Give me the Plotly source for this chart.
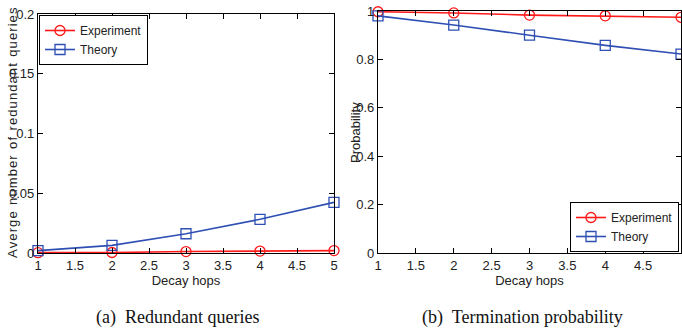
import plotly.graph_objects as go

hops = [1, 2, 3, 4, 5]
red_exp = [0.0003, 0.0004, 0.0012, 0.0016, 0.002]
red_theory = [0.002, 0.0064, 0.0161, 0.0282, 0.0424]
term_exp = [0.997, 0.992, 0.983, 0.980, 0.974]
term_theory = [0.980, 0.942, 0.900, 0.858, 0.822]

x_ticks = [1, 1.5, 2, 2.5, 3, 3.5, 4, 4.5, 5]
x_ticklabels = ["1", "1.5", "2", "2.5", "3", "3.5", "4", "4.5", "5"]
y1_ticks = [0, 0.05, 0.1, 0.15, 0.2]
y1_ticklabels = ["0", "0.05", "0.1", "0.15", "0.2"]
y2_ticks = [0, 0.2, 0.4, 0.6, 0.8, 1]
y2_ticklabels = ["0", "0.2", "0.4", "0.6", "0.8", "1"]

RED = "#ff1a1a"
BLUE = "#2f4fb3"
FONT = "Liberation Sans Narrow, Liberation Sans, Arial"
SERIF = "Liberation Serif, Times New Roman"

W, H = 682, 329
def px(x):
    return x / W
def py(y):
    return (H - y) / H

fig = go.Figure()
mk = dict(size=10, line=dict(width=1.3))
series = [
    (red_exp, "Experiment", RED, "circle-open", "x", "y", "legend"),
    (red_theory, "Theory", BLUE, "square-open", "x", "y", "legend"),
    (term_exp, "Experiment", RED, "circle-open", "x2", "y2", "legend2"),
    (term_theory, "Theory", BLUE, "square-open", "x2", "y2", "legend2"),
]
for vals, name, col, sym, xa, ya, lg in series:
    fig.add_trace(go.Scatter(x=hops, y=vals, name=name, mode="lines+markers",
                             line=dict(color=col, width=1.6),
                             marker=dict(symbol=sym, color=col, **mk),
                             cliponaxis=False,
                             xaxis=xa, yaxis=ya, legend=lg))

axis_common = dict(showline=True, linecolor="black", linewidth=1.2, mirror="allticks",
                   ticks="inside", ticklen=5, tickcolor="black", showgrid=False,
                   zeroline=False, automargin=False,
                   tickfont=dict(family=FONT, size=13, color="#222"))

ylabel = "A v e r g e  n u m b e r  o f  r e d u n d a n t  q u e r i e s".replace("  ", "\u2002").replace(" ", "\u200a")

fig.update_layout(
    width=W, height=H, margin=dict(l=0, r=0, t=0, b=0, autoexpand=False),
    paper_bgcolor="white", plot_bgcolor="white",
    font=dict(family=FONT, size=13, color="#222"),
    xaxis=dict(domain=[px(38), px(334)], range=[1, 5], tickvals=x_ticks, ticktext=x_ticklabels,
               title=dict(text="Decay hops", standoff=2, font=dict(size=13)), anchor="y", **axis_common),
    yaxis=dict(domain=[py(253), py(14)], range=[0, 0.2], tickvals=y1_ticks, ticktext=y1_ticklabels,
               anchor="x", **axis_common),
    xaxis2=dict(domain=[px(378), px(681)], range=[1, 5], tickvals=x_ticks, ticktext=x_ticklabels,
                title=dict(text="Decay hops", standoff=2, font=dict(size=13)), anchor="y2", **axis_common),
    yaxis2=dict(domain=[py(253), py(11)], range=[0, 1], tickvals=y2_ticks, ticktext=y2_ticklabels,
                anchor="x2", **axis_common),
    legend=dict(x=px(39), y=py(15), xanchor="left", yanchor="top", bgcolor="white",
                bordercolor="black", borderwidth=1, font=dict(family=FONT, size=12, color="#222"),
                itemwidth=30, tracegroupgap=0),
    legend2=dict(x=px(679), y=py(252), xanchor="right", yanchor="bottom", bgcolor="white",
                 bordercolor="black", borderwidth=1, font=dict(family=FONT, size=12, color="#222"),
                 itemwidth=30, tracegroupgap=0),
    showlegend=True,
)

fig.add_annotation(text=ylabel, x=px(12), y=py(133), xref="paper", yref="paper", textangle=-90,
                   xanchor="center", yanchor="middle", showarrow=False,
                   font=dict(family=FONT, size=13, color="#222"))
fig.add_annotation(text="Probability", x=px(355), y=py(133), xref="paper", yref="paper", textangle=-90,
                   xanchor="center", yanchor="middle", showarrow=False,
                   font=dict(family=FONT, size=13, color="#222"))
fig.add_annotation(text="(a)  Redundant queries", x=px(177), y=py(317), xref="paper", yref="paper",
                   xanchor="center", yanchor="middle", showarrow=False,
                   font=dict(family=SERIF, size=18, color="#111"))
fig.add_annotation(text="(b)  Termination probability", x=px(522), y=py(317), xref="paper", yref="paper",
                   xanchor="center", yanchor="middle", showarrow=False,
                   font=dict(family=SERIF, size=18, color="#111"))

fig.write_html("out.html", config={"displayModeBar": False},
               post_script="document.body.style.margin='0';document.body.style.overflow='hidden';")
